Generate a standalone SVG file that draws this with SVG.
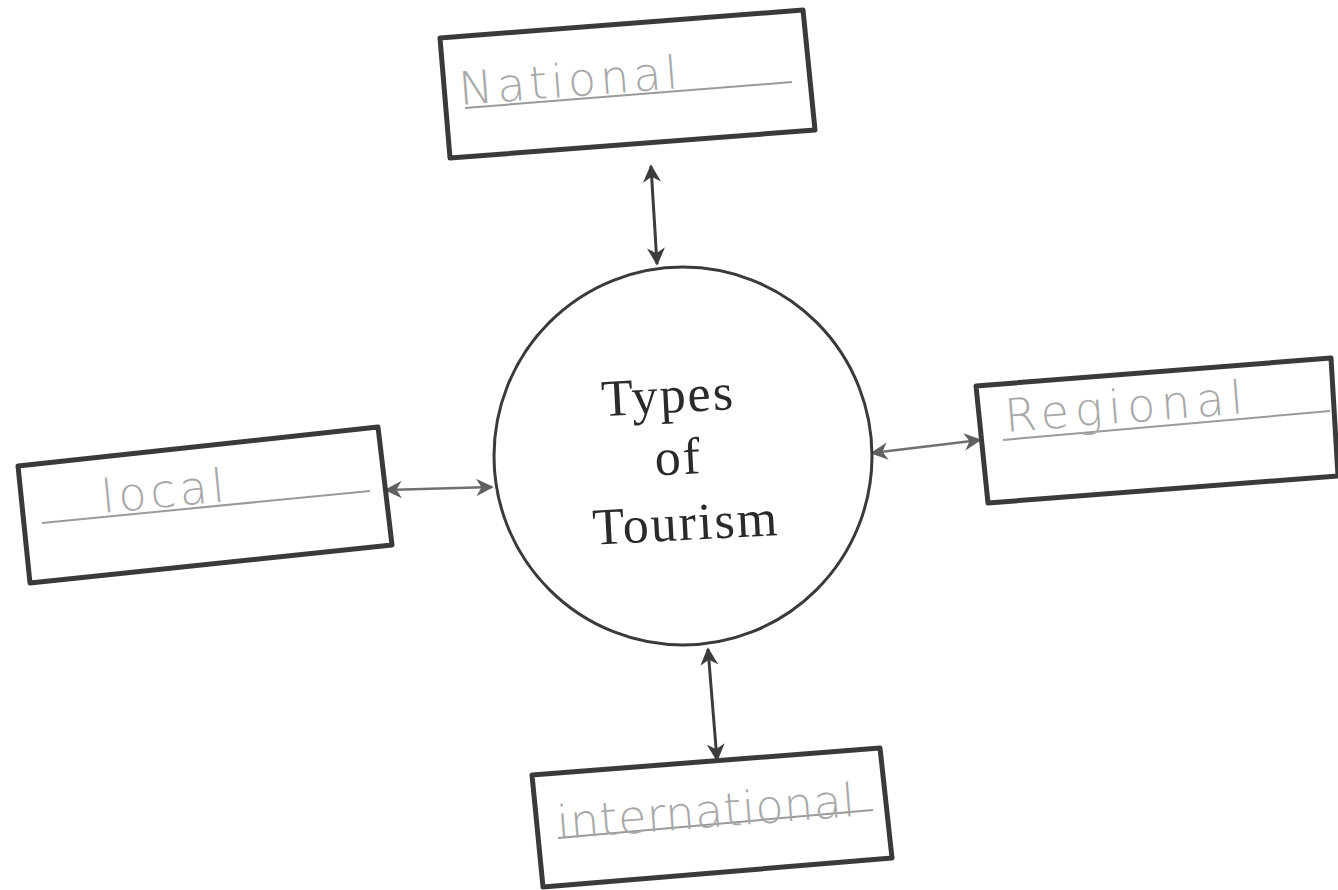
<svg xmlns="http://www.w3.org/2000/svg" width="1338" height="890" viewBox="0 0 1338 890">
<style>
.box{fill:#fff;stroke:#3a3a3a;stroke-width:5;stroke-linejoin:round}
.ul{stroke:#9a9a9a;stroke-width:2;fill:none}
.hw{font-family:"DejaVu Sans",sans-serif;font-size:46px;fill:#a8a8a8;font-weight:300;letter-spacing:4px}
.ctr{font-family:"Liberation Serif",serif;font-size:52px;fill:#2a2a2a;text-anchor:middle;letter-spacing:2px}
.con{stroke:#3c3c3c;stroke-width:3;fill:none}
.con2{stroke:#707070;stroke-width:2.5;fill:none}
</style>
<defs>
<marker id="ah" viewBox="0 0 10 10" refX="9" refY="5" markerWidth="6" markerHeight="6" orient="auto-start-reverse" markerUnits="strokeWidth">
<path d="M0,0 L10,5 L0,10 L3,5 Z" fill="#3c3c3c"/>
</marker>
<marker id="ah2" viewBox="0 0 10 10" refX="9" refY="5" markerWidth="7" markerHeight="7" orient="auto-start-reverse" markerUnits="strokeWidth">
<path d="M0,0 L10,5 L0,10 L3,5 Z" fill="#606060"/>
</marker>
</defs>
<rect width="1338" height="890" fill="#fff"/>
<g id="connectors">
<line class="con" x1="651" y1="166" x2="657" y2="264" marker-start="url(#ah)" marker-end="url(#ah)"/>
<line class="con2" x1="386" y1="490" x2="492" y2="487" marker-start="url(#ah2)" marker-end="url(#ah2)"/>
<line class="con2" x1="872" y1="453" x2="980" y2="440" marker-start="url(#ah2)" marker-end="url(#ah2)"/>
<line class="con" x1="708" y1="649" x2="717" y2="760" marker-start="url(#ah)" marker-end="url(#ah)"/>
</g>
<g id="center">
<circle cx="683" cy="456" r="189" fill="#fff" stroke="#3a3a3a" stroke-width="3"/>
<g transform="rotate(-3 683 470)">
<text class="ctr" x="672" y="412">Types</text>
<text class="ctr" x="679" y="474">of</text>
<text class="ctr" x="683" y="540">Tourism</text>
</g>
</g>
<g id="national">
<polygon class="box" points="440,38 803,10 815,130 450,158"/>
<line class="ul" x1="465" y1="108" x2="792" y2="82"/>
<text class="hw" x="460" y="105" transform="rotate(-4.4 460 105)">National</text>
</g>
<g id="regional">
<polygon class="box" points="976,386 1331,358 1338,476 988,503"/>
<line class="ul" x1="1003" y1="440" x2="1330" y2="411"/>
<text class="hw" x="1006" y="432" transform="rotate(-4.5 1006 432)" style="letter-spacing:6px">Regional</text>
</g>
<g id="local">
<polygon class="box" points="18,466 378,427 392,545 30,583"/>
<line class="ul" x1="42" y1="523" x2="370" y2="491"/>
<text class="hw" x="103" y="513" transform="rotate(-5.5 103 513)">local</text>
</g>
<g id="international">
<polygon class="box" points="532,775 880,748 892,858 543,887"/>
<line class="ul" x1="558" y1="838" x2="873" y2="810"/>
<text class="hw" x="558" y="839" transform="rotate(-4.4 558 839)" style="letter-spacing:0.5px">international</text>
</g>
</svg>
